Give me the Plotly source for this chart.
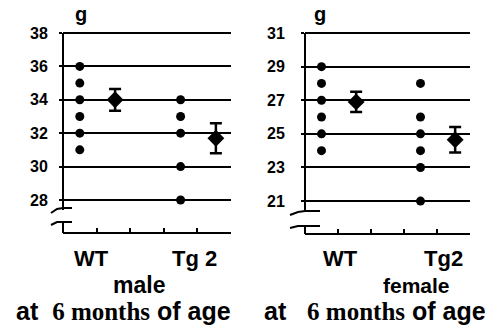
import plotly.graph_objects as go

W, H = 501, 336

# ---- data ----
groups = ["WT", "Tg 2"]
male_wt = [36, 35, 34, 33, 32, 31]
male_tg = [34, 33, 32, 30, 28]
male_mean = [34.0, 31.7]
male_err = [0.65, 0.9]

female_wt = [29, 28, 27, 26, 25, 24]
female_tg = [28, 26, 25, 24, 23, 21]
female_mean = [26.9, 24.65]
female_err = [0.6, 0.76]

male_ticks = [28, 30, 32, 34, 36, 38]
female_ticks = [21, 23, 25, 27, 29, 31]

def px(x):
    return x / W

def py(y):
    return 1 - y / H

fig = go.Figure()

def add_panel(wt, tg, means, errs, xa, ya):
    dot_x_wt = [0.5] * len(wt)
    dot_x_tg = [3.5] * len(tg)
    fig.add_trace(go.Scatter(x=dot_x_wt + dot_x_tg, y=wt + tg, mode="markers",
                             marker=dict(color="black", size=9, symbol="circle"),
                             xaxis=xa, yaxis=ya, showlegend=False, cliponaxis=False))
    fig.add_trace(go.Scatter(x=[1.55, 4.55], y=means, mode="markers",
                             marker=dict(color="black", size=13, symbol="diamond"),
                             error_y=dict(type="data", array=errs, visible=True,
                                          color="black", thickness=2.5, width=6),
                             xaxis=xa, yaxis=ya, showlegend=False, cliponaxis=False))

add_panel(male_wt, male_tg, male_mean, male_err, "x", "y")
add_panel(female_wt, female_tg, female_mean, female_err, "x2", "y2")

tickfont = dict(family="Liberation Sans", size=16, color="black", weight="bold")

xcommon = dict(range=[0, 5], showgrid=False, zeroline=False, showline=True,
               linecolor="black", linewidth=2, ticks="inside", tickvals=[1, 2, 3, 4, 5],
               ticklen=4, tickwidth=1.5, tickcolor="black", showticklabels=False,
               automargin=False)
ycommon = dict(showgrid=True, gridcolor="black", gridwidth=1.5, zeroline=False,
               showline=False, ticks="outside", ticklen=3, tickwidth=2,
               tickcolor="black", tickfont=tickfont, automargin=False)

fig.update_layout(
    width=W, height=H, margin=dict(l=0, r=0, t=0, b=0, autoexpand=False),
    paper_bgcolor="white", plot_bgcolor="white",
    font=dict(family="Liberation Sans", color="black"),
    xaxis=dict(domain=[px(63), px(231)], anchor="y", **xcommon),
    yaxis=dict(domain=[py(232), py(30)], anchor="x", range=[26.08, 38.18],
               tickvals=male_ticks, ticklabelstandoff=8, **ycommon),
    xaxis2=dict(domain=[px(305), px(470)], anchor="y2", **xcommon),
    yaxis2=dict(domain=[py(233), py(30)], anchor="x2", range=[19.1, 31.18],
                tickvals=female_ticks, ticklabelstandoff=13, **ycommon),
)

def path(pts, w=2):
    d = "M " + " L ".join(f"{px(a):.5f},{py(b):.5f}" for a, b in pts)
    fig.add_shape(type="path", xref="paper", yref="paper", path=d,
                  line=dict(color="black", width=w), layer="above")

# left axis with break
path([(63, 33), (63, 210)])
path([(51, 213), (57, 209), (63, 208), (72, 208)])
path([(51, 225), (57, 222), (63, 222), (72, 222)])
path([(63, 222), (63, 233)])
# right axis with break
path([(305, 33), (305, 212)])
path([(290, 215), (298, 212), (305, 211), (320, 211)])
path([(290, 228), (298, 226), (305, 226), (320, 226)])
path([(305, 226), (305, 234)])

def ann(text, x, y, size, **kw):
    fig.add_annotation(text=text, x=px(x), y=py(y), xref="paper", yref="paper",
                       showarrow=False, xanchor="center", yanchor="middle",
                       font=dict(family="Liberation Sans", size=size, color="black"), **kw)

ann("<b>g</b>", 81, 14, 20)
ann("<b>g</b>", 320, 14, 20)

ann("<b>" + groups[0] + "</b>", 91, 258, 22)
ann("<b>" + groups[1] + "</b>", 194, 258, 22)
ann("<b>male</b>", 139, 285, 23)
serif = "<span style='font-family:Liberation Serif,serif'>6 months</span>"
ann("<b>at  " + serif + " of age</b>", 123, 311, 25)

ann("<b>" + groups[0] + "</b>", 340, 258, 22)
ann("<b>Tg2</b>", 443, 258, 22)
ann("<b>female</b>", 416, 285, 21)
ann("<b>at   " + serif + " of age</b>", 375, 311, 25)

fig.write_html("out.html", config={"displayModeBar": False},
               post_script="document.body.style.margin='0';document.body.style.overflow='hidden';")
